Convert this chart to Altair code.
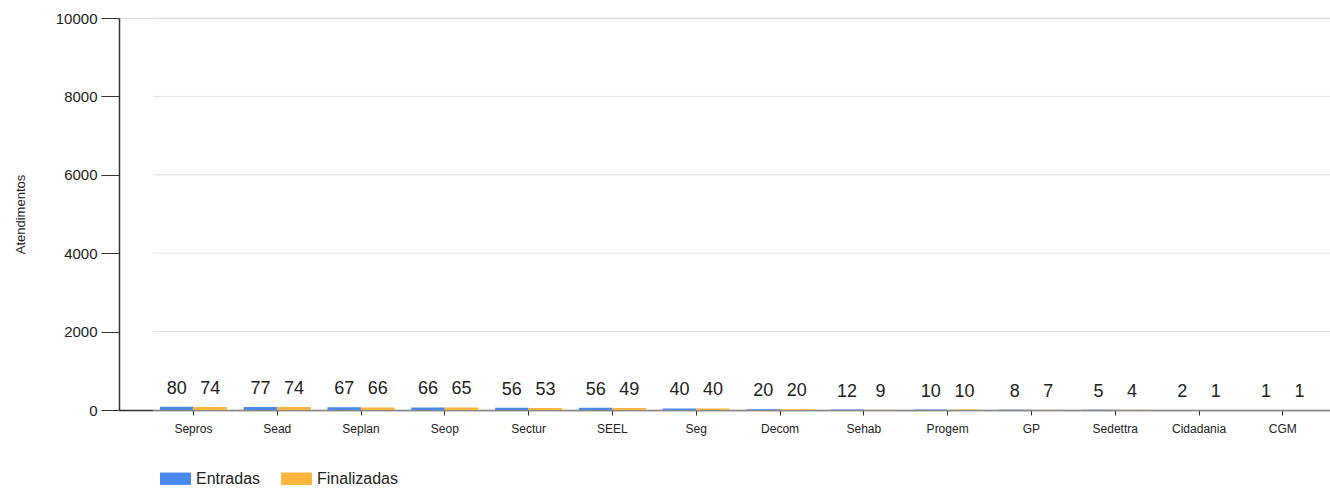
import altair as alt
import pandas as pd

# Secretarias and their attendance counts
secretarias = ["Sepros", "Sead", "Seplan", "Seop", "Sectur", "SEEL", "Seg",
               "Decom", "Sehab", "Progem", "GP", "Sedettra", "Cidadania", "CGM"]
entradas = [80, 77, 67, 66, 56, 56, 40, 20, 12, 10, 8, 5, 2, 1]
finalizadas = [74, 74, 66, 65, 53, 49, 40, 20, 9, 10, 7, 4, 1, 1]
series = ["Entradas", "Finalizadas"]
colors = ["#4a8af0", "#ffb43e"]
y_ticks = [0, 2000, 4000, 6000, 8000, 10000]

rows = []
for i, s in enumerate(secretarias):
    rows.append({"secretaria": s, "serie": series[0], "valor": entradas[i]})
    rows.append({"secretaria": s, "serie": series[1], "valor": finalizadas[i]})
df = pd.DataFrame(rows)
grid_df = pd.DataFrame({"valor": y_ticks})

W, H = 1211, 392
FONT = "Liberation Sans"

x_scale = alt.Scale(domain=secretarias, paddingInner=0.2, paddingOuter=0.3255, align=0.75)
y_scale = alt.Scale(domain=[0, 10000])
y_axis = alt.Axis(values=y_ticks, format="d", title="Atendimentos", grid=False,
                  labelFont=FONT, labelFontSize=15, labelColor="#222",
                  tickSize=18, tickColor="#333", domainColor="#333",
                  domainWidth=1.5, labelPadding=4,
                  titleFont=FONT, titleFontSize=13, titleFontWeight="normal",
                  titleColor="#222", titleX=-99, titleY=H / 2,
                  titleAngle=-90, titleBaseline="middle", titleAlign="center")

# light horizontal guide lines, starting a little right of the y axis
grid = alt.Chart(grid_df).mark_rule(color="#e2e2e2", strokeWidth=1).encode(
    y=alt.Y("valor:Q", scale=y_scale, axis=y_axis),
    x=alt.value(34),
    x2=alt.value(W),
)

base = alt.Chart(df).encode(
    x=alt.X("secretaria:N", scale=x_scale, sort=secretarias,
            axis=alt.Axis(title=None, labelAngle=0, labelFont=FONT, labelFontSize=12,
                          labelColor="#222", tickSize=5, tickColor="#333",
                          domainColor="#333", domainWidth=1.5, labelPadding=8)),
    xOffset=alt.XOffset("serie:N", sort=series, scale=alt.Scale(paddingInner=0, paddingOuter=0)),
    y=alt.Y("valor:Q", scale=y_scale, axis=y_axis),
)

bars = base.mark_bar(strokeWidth=0).encode(
    color=alt.Color("serie:N", sort=series,
                    scale=alt.Scale(domain=series, range=colors),
                    legend=alt.Legend(title=None, orient="none", legendX=41, legendY=445,
                                      direction="horizontal",
                                      symbolType="M-1,-0.4H1V0.4H-1Z", symbolSize=961,
                                      symbolStrokeWidth=0, labelFont=FONT, labelFontSize=16,
                                      labelColor="#222", labelOffset=5, columnPadding=20)),
)

labels = base.mark_text(font=FONT, fontSize=18, color="#222", baseline="alphabetic",
                        align="center", dy=-13).encode(
    text=alt.Text("valor:Q"),
)

chart = alt.layer(grid, bars, labels).properties(
    width=W, height=H,
    autosize=alt.AutoSizeParams(type="none"),
    padding={"left": 119, "top": 18, "right": 0, "bottom": 81},
).configure_view(strokeWidth=0).configure(background="white")

chart.save("out.html", embed_options={"renderer": "svg", "actions": False})
